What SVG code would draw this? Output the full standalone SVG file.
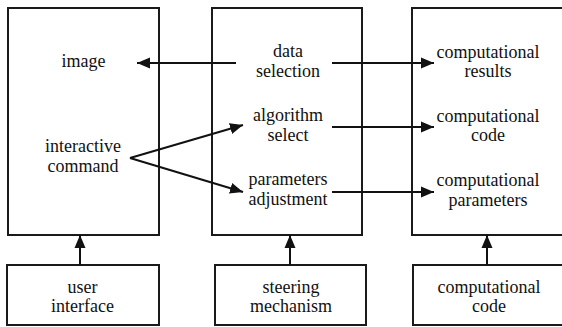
<svg xmlns="http://www.w3.org/2000/svg" width="562" height="327" viewBox="0 0 562 327" font-family="Liberation Serif, DejaVu Serif, Times New Roman, serif">
<style>
.box{fill:#fff;stroke:#1a1a1a;stroke-width:2}
.t{font-size:18px;fill:#111;text-anchor:middle}
.c{stroke:#111;stroke-width:2;fill:none}
.a{marker-end:url(#ah)}
</style>
<defs>
<marker id="ah" markerUnits="userSpaceOnUse" markerWidth="14" markerHeight="12" refX="13" refY="6" orient="auto">
<path d="M0,0.5 L13,6 L0,11.5 Z" fill="#111"/>
</marker>
</defs>
<g id="display">
<rect class="box" x="8" y="8" width="151" height="227"/>
<text class="t" x="83.5" y="67" font-family="Liberation Serif">image</text>
<text class="t" x="83" y="152" font-family="Liberation Serif">interactive</text>
<text class="t" x="83" y="172" font-family="Liberation Serif">command</text>
</g>
<g id="steering" font-family="Liberation Serif">
<rect class="box" x="212" y="8" width="150" height="227"/>
<text class="t" x="288" y="57">data</text>
<text class="t" x="288" y="77">selection</text>
<text class="t" x="288" y="121">algorithm</text>
<text class="t" x="288" y="141">select</text>
<text class="t" x="288" y="185">parameters</text>
<text class="t" x="288" y="205">adjustment</text>
</g>
<g id="computation" font-family="Liberation Serif">
<rect class="box" x="412" y="8" width="160" height="227"/>
<text class="t" x="488" y="58">computational</text>
<text class="t" x="488" y="77">results</text>
<text class="t" x="488" y="122">computational</text>
<text class="t" x="488" y="141">code</text>
<text class="t" x="488" y="186">computational</text>
<text class="t" x="488" y="206">parameters</text>
</g>
<g id="user-interface" font-family="Liberation Serif">
<rect class="box" x="7" y="265" width="152" height="60"/>
<text class="t" x="82.5" y="293">user</text>
<text class="t" x="82.5" y="312">interface</text>
</g>
<g id="steering-mechanism" font-family="Liberation Serif">
<rect class="box" x="215" y="265" width="151" height="60"/>
<text class="t" x="291" y="293">steering</text>
<text class="t" x="291" y="312">mechanism</text>
</g>
<g id="computational-code" font-family="Liberation Serif">
<rect class="box" x="413" y="265" width="160" height="60"/>
<text class="t" x="489" y="293">computational</text>
<text class="t" x="489" y="312">code</text>
</g>
<g id="connectors">
<line class="c a" x1="236" y1="63" x2="137" y2="63"/>
<line class="c a" x1="130" y1="158" x2="243" y2="125"/>
<line class="c a" x1="130" y1="158" x2="243" y2="192"/>
<line class="c a" x1="332" y1="63" x2="434" y2="63"/>
<line class="c a" x1="332" y1="127" x2="434" y2="127"/>
<line class="c a" x1="332" y1="192" x2="434" y2="192"/>
<line class="c a" x1="80" y1="265" x2="80" y2="235"/>
<line class="c a" x1="290" y1="265" x2="290" y2="235"/>
<line class="c a" x1="487" y1="265" x2="487" y2="235"/>
</g>
</svg>
